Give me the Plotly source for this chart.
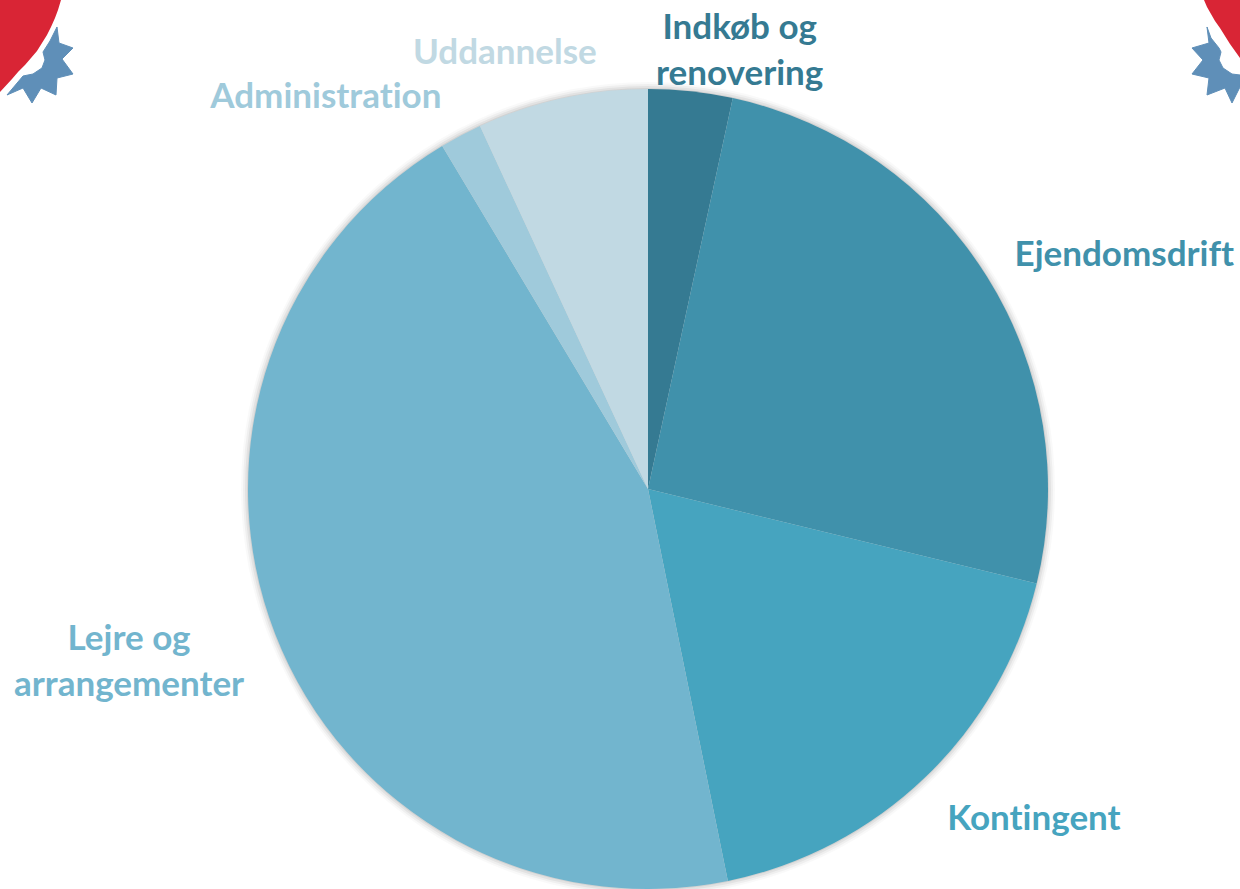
import plotly.graph_objects as go

W, H = 1240, 889

# Data (shares in percent, clockwise from 12 o'clock)
categories = ["Indkøb og<br>renovering", "Ejendomsdrift", "Kontingent",
              "Lejre og<br>arrangementer", "Administration", "Uddannelse"]
shares = [3.4, 25.4, 18.0, 44.6, 1.7, 6.9]
colors = ["#357A92", "#4091AB", "#46A4BF", "#72B5CE", "#9FCADB", "#C1D9E3"]
label_x = [739, 1124, 1034, 129, 325, 505]
label_y = [48, 252, 816, 659, 94, 50]


def px(x):
    return x / W


def py(y):
    return 1 - y / H


def path(points):
    out = []
    for i, (x, y) in enumerate(points):
        out.append(("M" if i == 0 else "L") + f"{px(x):.5f},{py(y):.5f}")
    return " ".join(out) + " Z"


red_left = [(0, 0), (61, 0), (58, 10), (55, 18), (51, 27), (47, 35), (42, 43), (37, 51), (31, 58),
            (25, 65), (18, 72), (12, 79), (0, 92)]
red_right = [(1204, 0), (1207, 7), (1211, 14), (1215, 21), (1220, 28), (1225, 36), (1230, 44), (1240, 58), (1240, 0)]
gear_left = [(57, 27), (59, 43), (73, 48), (62, 59), (73, 74), (57, 78), (56, 95), (41, 88),
             (32, 103), (23, 88), (7, 95), (23, 76), (33, 74), (42, 68), (45, 60), (43, 52), (50, 41)]
gear_right = [(1207, 27), (1211, 38), (1219, 48), (1221, 52), (1219, 60), (1223, 68), (1232, 74),
              (1240, 75), (1240, 87), (1232, 103), (1225, 88), (1207, 95), (1209, 78), (1192, 74),
              (1203, 60), (1192, 48), (1209, 43)]

shapes = []
for pts, col, lw in [(red_left, "#D92535", 0), (red_right, "#D92535", 0),
                     (gear_left, "#5F8FB8", 1), (gear_right, "#5F8FB8", 1)]:
    shapes.append(dict(type="path", xref="paper", yref="paper", path=path(pts),
                       fillcolor=col, line=dict(width=lw, color=col), layer="below"))

# soft drop shadow behind the pie
for grow, alpha in [(7, 0.025), (5, 0.04), (3, 0.05), (1, 0.07)]:
    shapes.append(dict(type="circle", xref="paper", yref="paper",
                       x0=px(248 - grow), x1=px(1048 + grow),
                       y0=py(889 + grow), y1=py(89 - grow),
                       fillcolor=f"rgba(0,0,0,{alpha})", line=dict(width=0), layer="below"))

fig = go.Figure(go.Pie(
    labels=[c.replace("<br>", " ") for c in categories],
    values=shares,
    sort=False,
    direction="clockwise",
    rotation=0,
    textinfo="none",
    hoverinfo="label+percent",
    showlegend=False,
    marker=dict(colors=colors, line=dict(width=0)),
    domain=dict(x=[px(248), px(1048)], y=[py(889), py(89)]),
))

annotations = [
    dict(text=f"<b>{c}</b>", x=px(x), y=py(y), xref="paper", yref="paper",
         xanchor="center", yanchor="middle", showarrow=False, align="center",
         font=dict(family="Lato", size=35, color=col))
    for c, x, y, col in zip(categories, label_x, label_y, colors)
]

fig.update_layout(
    width=W, height=H, autosize=False,
    margin=dict(l=0, r=0, t=0, b=0),
    paper_bgcolor="white", plot_bgcolor="white",
    shapes=shapes, annotations=annotations,
)
page_css = ("document.body.style.margin='0';document.body.style.overflow='hidden';"
            "var s=document.createElement('style');"
            "s.textContent='text,tspan{font-variant-ligatures:none !important;"
            "font-feature-settings:\"liga\" 0,\"clig\" 0 !important}';document.head.appendChild(s);")
fig.write_html("out.html", config=dict(displayModeBar=False), post_script=page_css)
